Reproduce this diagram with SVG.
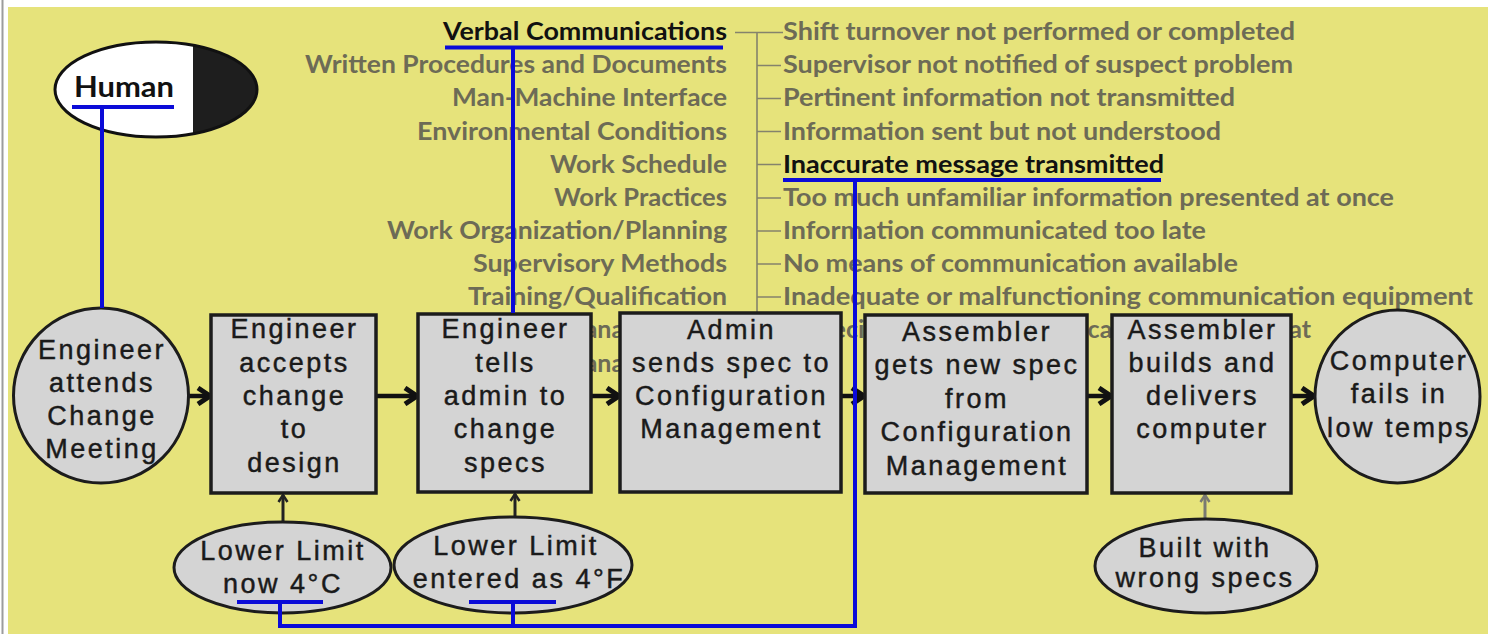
<svg xmlns="http://www.w3.org/2000/svg" width="1488" height="634" viewBox="0 0 1488 634">
  <style>
    .list{font-family:Lato,"Liberation Sans",sans-serif;font-weight:700;font-size:25px;fill:#6d6b56}
    .key{fill:#111}
    .lbl{font-family:"Liberation Sans",Arial,sans-serif;font-size:27px;letter-spacing:2.5px;fill:#1a1a1a;stroke:#1a1a1a;stroke-width:0.45px;text-anchor:middle}
    .box{fill:#d4d4d4;stroke:#1c1c1c;stroke-width:3.5}
    .oval{fill:#d4d4d4;stroke:#1c1c1c;stroke-width:3}
    .flow{stroke:#111;stroke-width:4.5;fill:none;marker-end:url(#head)}
    .feed{stroke:#222;stroke-width:3;fill:none;marker-end:url(#headSmall)}
    .feed.grey{stroke:#7a7a72;marker-end:url(#headGrey)}
    .blue{stroke:#0b0bd8;stroke-width:4;fill:none}
    .tick{stroke:#85836c;stroke-width:1.6;fill:none}
  </style>
  <defs>
    <marker id="head" viewBox="0 0 20 20" refX="17" refY="10" markerWidth="20" markerHeight="20" markerUnits="userSpaceOnUse" orient="auto">
      <path d="M5,2 L17,10 L5,18" fill="none" stroke="#111" stroke-width="5"/>
    </marker>
    <marker id="headSmall" viewBox="0 0 12 12" refX="10" refY="6" markerWidth="12" markerHeight="12" markerUnits="userSpaceOnUse" orient="auto">
      <path d="M3,1.5 L10,6 L3,10.5" fill="none" stroke="#222" stroke-width="2.5"/>
    </marker>
    <marker id="headGrey" viewBox="0 0 12 12" refX="10" refY="6" markerWidth="12" markerHeight="12" markerUnits="userSpaceOnUse" orient="auto">
      <path d="M3,1.5 L10,6 L3,10.5" fill="none" stroke="#7a7a72" stroke-width="2.5"/>
    </marker>
  </defs>

  <!-- page and panel -->
  <rect width="1488" height="634" fill="#ffffff"/>
  <line x1="2.5" y1="0" x2="2.5" y2="634" stroke="#9c9c9c" stroke-width="2"/>
  <rect x="8" y="7" width="1480" height="627" fill="#e6e37b"/>

  <!-- performance factor categories -->
  <g id="categories" class="list">
    <text class="key" x="443" y="40" textLength="284" lengthAdjust="spacingAndGlyphs">Verbal Communications</text>
    <text x="305" y="73.2" textLength="422" lengthAdjust="spacingAndGlyphs">Written Procedures and Documents</text>
    <text x="452" y="106.3" textLength="275" lengthAdjust="spacingAndGlyphs">Man-Machine Interface</text>
    <text x="417" y="139.5" textLength="310" lengthAdjust="spacingAndGlyphs">Environmental Conditions</text>
    <text x="550" y="172.6" textLength="177" lengthAdjust="spacingAndGlyphs">Work Schedule</text>
    <text x="554" y="205.8" textLength="173" lengthAdjust="spacingAndGlyphs">Work Practices</text>
    <text x="387" y="238.9" textLength="340" lengthAdjust="spacingAndGlyphs">Work Organization/Planning</text>
    <text x="473" y="272.1" textLength="254" lengthAdjust="spacingAndGlyphs">Supervisory Methods</text>
    <text x="468" y="305.2" textLength="259" lengthAdjust="spacingAndGlyphs">Training/Qualification</text>
    <text x="708" y="338.4" text-anchor="end">Change Management</text>
    <text x="708" y="371.5" text-anchor="end">Resource Management</text>
  </g>

  <!-- verbal communication sub-causes -->
  <g id="causes">
    <path class="tick" d="M735,32.5 H783 M757,32.5 V330 M757,65.5 H781 M757,98.5 H781 M757,131.5 H781 M757,164.5 H781 M757,198 H781 M757,231 H781 M757,264 H781 M757,297 H781 M757,330 H781"/>
    <g class="list">
      <text x="783" y="40" textLength="512" lengthAdjust="spacingAndGlyphs">Shift turnover not performed or completed</text>
      <text x="783" y="73.2" textLength="510" lengthAdjust="spacingAndGlyphs">Supervisor not notified of suspect problem</text>
      <text x="783" y="106.3" textLength="452" lengthAdjust="spacingAndGlyphs">Pertinent information not transmitted</text>
      <text x="783" y="139.5" textLength="438" lengthAdjust="spacingAndGlyphs">Information sent but not understood</text>
      <text class="key" x="783" y="172.6" textLength="381" lengthAdjust="spacingAndGlyphs">Inaccurate message transmitted</text>
      <text x="783" y="205.8" textLength="611" lengthAdjust="spacingAndGlyphs">Too much unfamiliar information presented at once</text>
      <text x="783" y="238.9" textLength="423" lengthAdjust="spacingAndGlyphs">Information communicated too late</text>
      <text x="783" y="272.1" textLength="455" lengthAdjust="spacingAndGlyphs">No means of communication available</text>
      <text x="783" y="305.2" textLength="690" lengthAdjust="spacingAndGlyphs">Inadequate or malfunctioning communication equipment</text>
      <text y="338.4"><tspan x="760">Nonspecific</tspan> <tspan x="985">communication</tspan> <tspan x="1236">format</tspan></text>
    </g>
  </g>

  <!-- Human category tag -->
  <g id="human">
    <ellipse cx="156" cy="89.5" rx="101" ry="47.5" fill="#ffffff"/>
    <path d="M193,45.3 A101,47.5 0 0 1 193,133.7 Z" fill="#1e1e1e"/>
    <ellipse cx="156" cy="89.5" rx="101" ry="47.5" fill="none" stroke="#111" stroke-width="3"/>
    <text x="74" y="97" font-family="Lato,'Liberation Sans',sans-serif" font-weight="700" font-size="29" fill="#111" textLength="100" lengthAdjust="spacingAndGlyphs">Human</text>
  </g>

  <!-- flow connectors -->
  <g id="connectors">
    <line class="flow" x1="189" y1="396" x2="210" y2="396"/>
    <line class="flow" x1="376" y1="396" x2="417" y2="396"/>
    <line class="flow" x1="591" y1="396" x2="619" y2="396"/>
    <line class="flow" x1="841" y1="396" x2="864" y2="396"/>
    <line class="flow" x1="1087" y1="396" x2="1111" y2="396"/>
    <line class="flow" x1="1291" y1="396" x2="1314" y2="396"/>
    <line class="feed" x1="283" y1="522" x2="283" y2="495"/>
    <line class="feed" x1="515" y1="517" x2="515" y2="494"/>
    <line class="feed grey" x1="1205" y1="519" x2="1205" y2="495"/>
  </g>

  <!-- event nodes -->
  <g id="n-meeting">
    <circle class="oval" cx="101" cy="395.5" r="87.5"/>
    <text class="lbl"><tspan x="102" y="359">Engineer</tspan><tspan x="102" y="392">attends</tspan><tspan x="102" y="425">Change</tspan><tspan x="102" y="458">Meeting</tspan></text>
  </g>
  <g id="n-accepts">
    <rect class="box" x="211" y="315" width="165" height="178"/>
    <text class="lbl"><tspan x="294.5" y="338">Engineer</tspan><tspan x="294.5" y="371.5">accepts</tspan><tspan x="294.5" y="405">change</tspan><tspan x="294.5" y="438">to</tspan><tspan x="294.5" y="471.5">design</tspan></text>
  </g>
  <g id="n-tells">
    <rect class="box" x="418" y="314" width="173" height="178"/>
    <text class="lbl"><tspan x="505.5" y="338">Engineer</tspan><tspan x="505.5" y="371.5">tells</tspan><tspan x="505.5" y="405">admin to</tspan><tspan x="505.5" y="438">change</tspan><tspan x="505.5" y="471.5">specs</tspan></text>
  </g>
  <g id="n-admin">
    <rect class="box" x="620" y="313" width="221" height="179"/>
    <text class="lbl"><tspan x="731.5" y="339">Admin</tspan><tspan x="731.5" y="372">sends spec to</tspan><tspan x="731.5" y="405">Configuration</tspan><tspan x="731.5" y="438">Management</tspan></text>
  </g>
  <g id="n-gets">
    <rect class="box" x="865" y="315" width="222" height="178"/>
    <text class="lbl"><tspan x="977" y="341">Assembler</tspan><tspan x="977" y="374">gets new spec</tspan><tspan x="977" y="408">from</tspan><tspan x="977" y="441">Configuration</tspan><tspan x="977" y="475">Management</tspan></text>
  </g>
  <g id="n-builds">
    <rect class="box" x="1112" y="315" width="179" height="178"/>
    <text class="lbl"><tspan x="1202.5" y="339">Assembler</tspan><tspan x="1202.5" y="372">builds and</tspan><tspan x="1202.5" y="405">delivers</tspan><tspan x="1202.5" y="438">computer</tspan></text>
  </g>
  <g id="n-fails">
    <ellipse class="oval" cx="1397.5" cy="396.5" rx="82.5" ry="86.5"/>
    <text class="lbl"><tspan x="1399" y="370">Computer</tspan><tspan x="1399" y="403">fails in</tspan><tspan x="1399" y="437">low temps</tspan></text>
  </g>
  <g id="c-celsius">
    <ellipse class="oval" cx="282.5" cy="567.5" rx="108.5" ry="45.5"/>
    <text class="lbl"><tspan x="283" y="560">Lower Limit</tspan><tspan x="283" y="593">now 4°C</tspan></text>
  </g>
  <g id="c-fahrenheit">
    <ellipse class="oval" cx="513" cy="565" rx="119" ry="48"/>
    <text class="lbl"><tspan x="516" y="555">Lower Limit</tspan><tspan x="519" y="588">entered as 4°F</tspan></text>
  </g>
  <g id="c-wrongspecs">
    <ellipse class="oval" cx="1206" cy="566" rx="111" ry="47"/>
    <text class="lbl"><tspan x="1205" y="557">Built with</tspan><tspan x="1205" y="587">wrong specs</tspan></text>
  </g>

  <!-- causal links to the classification -->
  <g id="links" class="blue">
    <path d="M72,107 H174 M102,107 V308"/>
    <path d="M445,47.5 H723 M513,47.5 V313"/>
    <path d="M783,180 H1161 M855,180 V626 H280"/>
    <path d="M237,602 H323 M280,602 V628"/>
    <path d="M469,602 H556 M513,602 V626"/>
  </g>
</svg>
